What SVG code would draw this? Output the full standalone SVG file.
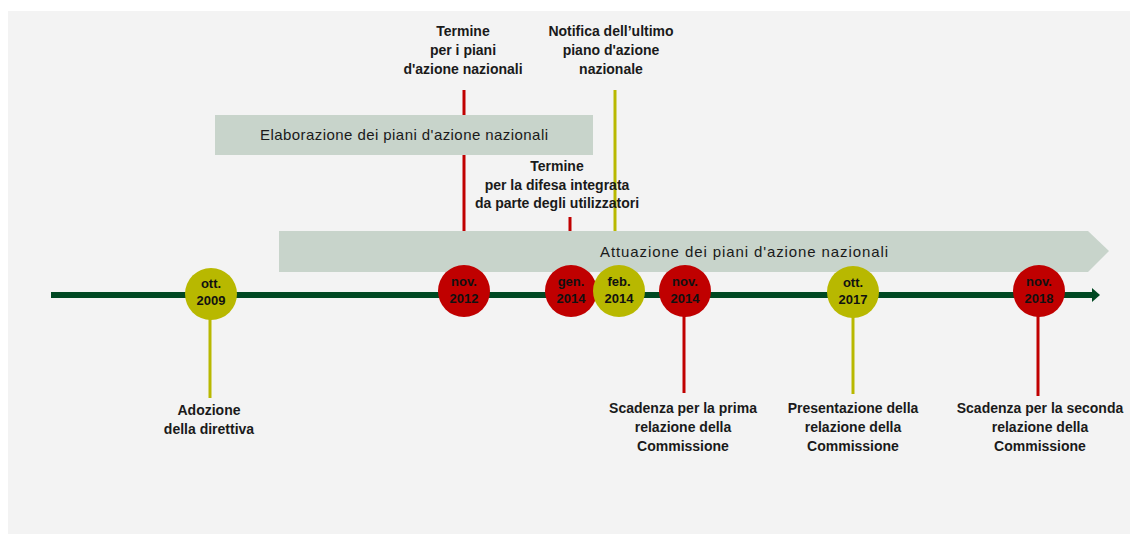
<svg xmlns="http://www.w3.org/2000/svg" width="1130" height="534" viewBox="0 0 1130 534">
<style>
.lbl{font-family:"Liberation Sans",Arial,sans-serif;font-weight:bold;font-size:14px;fill:#1a1a1a;text-anchor:middle}
.bar{font-family:"Liberation Sans",Arial,sans-serif;font-size:15px;fill:#1a1a1a;text-anchor:middle}
.dt{font-family:"Liberation Sans",Arial,sans-serif;font-weight:bold;font-size:13px;fill:#111;text-anchor:middle}
.red{fill:#c00000}
.olv{fill:#b8b800}
.sr{stroke:#c00000;stroke-width:3;fill:none}
.so{stroke:#b8b800;stroke-width:3;fill:none}
.box{fill:#c8d4cb}
</style>
<rect x="0" y="0" width="1130" height="534" fill="#ffffff"/>
<rect x="8" y="11" width="1122" height="523" fill="#f3f3f3"/>

<g id="connectors">
<line class="sr" x1="464" y1="90" x2="464" y2="232"/>
<line class="so" x1="615" y1="90" x2="615" y2="232"/>
<line class="sr" x1="570" y1="217" x2="570" y2="232"/>
<line class="so" x1="210" y1="318" x2="210" y2="398"/>
<line class="sr" x1="684" y1="316" x2="684" y2="393"/>
<line class="so" x1="853" y1="316" x2="853" y2="394"/>
<line class="sr" x1="1038" y1="316" x2="1038" y2="396"/>
<line x1="51" y1="295" x2="1094" y2="295" stroke="#004822" stroke-width="6"/>
<polygon points="1092,288 1100,295 1092,302" fill="#004822"/>
</g>

<g id="elaborazione">
<rect class="box" x="215" y="115" width="378" height="40"/>
<text class="bar" x="404" y="140" textLength="288" lengthAdjust="spacing">Elaborazione dei piani d'azione nazionali</text>
</g>

<g id="attuazione">
<polygon class="box" points="279,231 1088,231 1109,251 1088,272 279,272"/>
<text class="bar" x="744" y="257" textLength="288" lengthAdjust="spacing">Attuazione dei piani d'azione nazionali</text>
</g>

<g id="n2009">
<circle class="olv" cx="211" cy="294" r="26"/>
<text class="dt" x="211" y="288">ott.</text>
<text class="dt" x="211" y="305">2009</text>
</g>
<g id="n2012">
<circle class="red" cx="464" cy="291" r="26"/>
<text class="dt" x="464" y="286">nov.</text>
<text class="dt" x="464" y="303">2012</text>
</g>
<g id="n2014gen">
<circle class="red" cx="571" cy="291" r="26"/>
<text class="dt" x="571" y="286">gen.</text>
<text class="dt" x="571" y="303">2014</text>
</g>
<g id="n2014feb">
<circle class="olv" cx="619" cy="291" r="26"/>
<text class="dt" x="619" y="286">feb.</text>
<text class="dt" x="619" y="303">2014</text>
</g>
<g id="n2014nov">
<circle class="red" cx="685" cy="291" r="26"/>
<text class="dt" x="685" y="286">nov.</text>
<text class="dt" x="685" y="303">2014</text>
</g>
<g id="n2017">
<circle class="olv" cx="853" cy="292" r="26"/>
<text class="dt" x="853" y="287">ott.</text>
<text class="dt" x="853" y="304">2017</text>
</g>
<g id="n2018">
<circle class="red" cx="1039" cy="291" r="26"/>
<text class="dt" x="1039" y="286">nov.</text>
<text class="dt" x="1039" y="303">2018</text>
</g>

<g id="t-termine-piani">
<text class="lbl" x="463" y="36">Termine</text>
<text class="lbl" x="463" y="55">per i piani</text>
<text class="lbl" x="463" y="74">d'azione nazionali</text>
</g>
<g id="t-notifica">
<text class="lbl" x="611" y="36">Notifica dell’ultimo</text>
<text class="lbl" x="611" y="55">piano d'azione</text>
<text class="lbl" x="611" y="74">nazionale</text>
</g>
<g id="t-termine-difesa">
<text class="lbl" x="557" y="171">Termine</text>
<text class="lbl" x="557" y="190">per la difesa integrata</text>
<text class="lbl" x="557" y="208">da parte degli utilizzatori</text>
</g>
<g id="t-adozione">
<text class="lbl" x="209" y="415">Adozione</text>
<text class="lbl" x="209" y="434">della direttiva</text>
</g>
<g id="t-prima">
<text class="lbl" x="683" y="413">Scadenza per la prima</text>
<text class="lbl" x="683" y="432">relazione della</text>
<text class="lbl" x="683" y="451">Commissione</text>
</g>
<g id="t-presentazione">
<text class="lbl" x="853" y="413">Presentazione della</text>
<text class="lbl" x="853" y="432">relazione della</text>
<text class="lbl" x="853" y="451">Commissione</text>
</g>
<g id="t-seconda">
<text class="lbl" x="1040" y="413">Scadenza per la seconda</text>
<text class="lbl" x="1040" y="432">relazione della</text>
<text class="lbl" x="1040" y="451">Commissione</text>
</g>
</svg>
